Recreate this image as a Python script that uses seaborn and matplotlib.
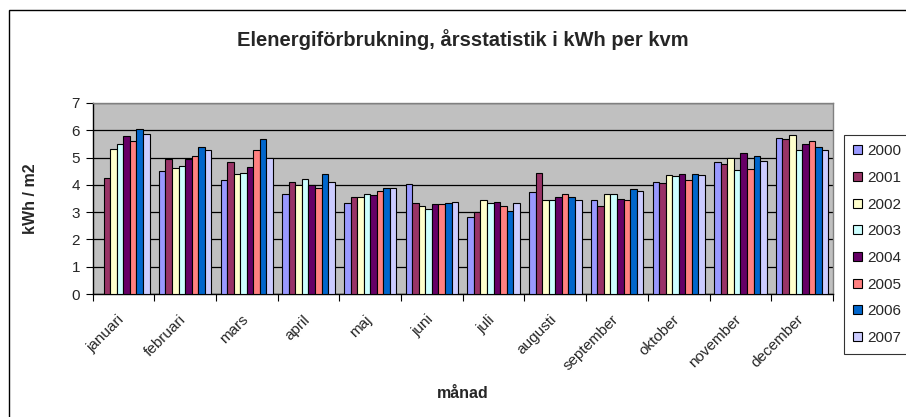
import numpy as np
import pandas as pd
import matplotlib
matplotlib.use("Agg")
import matplotlib.pyplot as plt
import seaborn as sns
from matplotlib.patches import Rectangle
from matplotlib.transforms import ScaledTranslation

months = ["januari", "februari", "mars", "april", "maj", "juni", "juli",
          "augusti", "september", "oktober", "november", "december"]
years = ["2000", "2001", "2002", "2003", "2004", "2005", "2006", "2007"]

v2000 = [np.nan, 4.50, 4.17, 3.66, 3.35, 4.02, 2.83, 3.72, 3.43, 4.10, 4.82, 5.71]
v2001 = [4.26, 4.93, 4.85, 4.10, 3.57, 3.35, 3.02, 4.43, 3.21, 4.06, 4.78, 5.67]
v2002 = [5.33, 4.62, 4.40, 4.01, 3.57, 3.21, 3.43, 3.46, 3.68, 4.37, 5.00, 5.82]
v2003 = [5.51, 4.70, 4.44, 4.21, 3.66, 3.13, 3.33, 3.46, 3.65, 4.33, 4.54, 5.26]
v2004 = [5.78, 4.93, 4.67, 3.99, 3.62, 3.29, 3.38, 3.57, 3.50, 4.39, 5.15, 5.51]
v2005 = [5.59, 5.07, 5.26, 3.90, 3.77, 3.29, 3.21, 3.65, 3.46, 4.17, 4.59, 5.62]
v2006 = [6.05, 5.40, 5.67, 4.39, 3.87, 3.32, 3.06, 3.57, 3.83, 4.40, 5.07, 5.40]
v2007 = [5.88, 5.29, 4.98, 4.09, 3.87, 3.39, 3.35, 3.46, 3.76, 4.37, 4.89, 5.29]

colors = ["#9999FF", "#993366", "#FFFFCC", "#CCFFFF", "#660066", "#FF8080", "#0066CC", "#CCCCFF"]

series = [v2000, v2001, v2002, v2003, v2004, v2005, v2006, v2007]
rows = []
for y, vals in zip(years, series):
    for m, v in zip(months, vals):
        if not np.isnan(v):
            rows.append({"månad": m, "år": y, "kWh": v})
df = pd.DataFrame(rows)

sns.set_theme(style="white")
plt.rcParams["font.family"] = ["Liberation Sans", "DejaVu Sans"]

fig = plt.figure(figsize=(9.06, 4.17), dpi=100)
ax = fig.add_axes([92.5/906, (417-294)/417, (833-92.5)/906, (294-103)/417])

sns.barplot(data=df, x="månad", y="kWh", hue="år", order=months, hue_order=years,
            palette=colors, width=0.85, edgecolor="black", linewidth=0.8,
            saturation=1, errorbar=None, ax=ax, zorder=3)

ax.set_facecolor("#C0C0C0")
ax.set_ylim(0, 7)
ax.set_xlim(-0.5, 11.5)
ax.set_yticks(range(0, 8))
ax.yaxis.grid(True, color="black", lw=0.9, zorder=1)
ax.xaxis.grid(False)
ax.set_axisbelow(True)

for s in ["top", "right"]:
    ax.spines[s].set_color("#808080")
    ax.spines[s].set_linewidth(1.0)
for s in ["left", "bottom"]:
    ax.spines[s].set_color("black")
    ax.spines[s].set_linewidth(1.0)

ax.tick_params(axis="y", which="major", direction="out", length=5, width=0.8,
               color="black", labelsize=11, pad=4, left=True)
ax.set_xticks(range(12))
ax.set_xticklabels(months, rotation=45, ha="right", va="top", rotation_mode="anchor",
                   fontsize=11)
ax.tick_params(axis="x", which="major", length=0, pad=9)
ax.set_xticks(np.arange(-0.5, 12, 1.0), minor=True)
ax.tick_params(axis="x", which="minor", direction="out", length=5, width=0.8,
               color="black", bottom=True)
shift = ScaledTranslation(-6/100, -6/100, fig.dpi_scale_trans)
for lab in ax.get_xticklabels():
    lab.set_transform(lab.get_transform() + shift)

ax.set_xlabel("månad", fontsize=11.5, fontweight="bold")
ax.set_ylabel("kWh / m2", fontsize=11.5, fontweight="bold")
ax.xaxis.set_label_coords((463-92.5)/(833-92.5), -(386-294)/(294-103))
ax.yaxis.set_label_coords(-(92.5-38)/(833-92.5), 0.5)

fig.text(463/906, (417-40)/417, "Elenergiförbrukning, årsstatistik i kWh per kvm",
         ha="center", va="center", fontsize=14.5, fontweight="bold")

handles, labels = ax.get_legend_handles_labels()
leg = fig.legend(handles, labels, loc="upper left",
                 bbox_to_anchor=(844/906, (417-135)/417), bbox_transform=fig.transFigure,
                 frameon=True, fancybox=False, shadow=False, fontsize=11,
                 handlelength=0.55, handleheight=0.55, handletextpad=0.4,
                 labelspacing=0.83, borderpad=0.6, borderaxespad=0, title=None)
leg.get_frame().set_edgecolor("black")
leg.get_frame().set_linewidth(0.8)
if ax.get_legend():
    ax.get_legend().remove()

border = Rectangle((9/906, -0.5), 2.0, (417-10)/417 + 0.5, transform=fig.transFigure,
                   fill=False, edgecolor="black", linewidth=1.0, zorder=10)
fig.patches.append(border)

fig.savefig("out.png", dpi=100, facecolor="white")
